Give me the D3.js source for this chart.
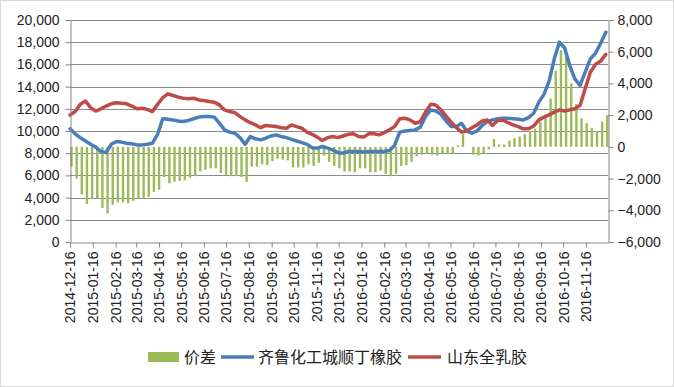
<!DOCTYPE html>
<html lang="zh">
<head>
  <meta charset="UTF-8">
  <title>价差</title>
  <script src="https://d3js.org/d3.v7.min.js"></script>
  <style>
    body { margin: 0; background: #fff; }
    svg { display: block; }
    .tick-label { font-family: "Liberation Sans", Arial, sans-serif; fill: #222; }
    .legend-text { font-family: "Noto Sans CJK SC", sans-serif; font-size: 16px; fill: #222; }
  </style>
</head>
<body>
<div class="main"></div>
<script>
  // weekly samples
  const dates = [
    "2014-12-16","2014-12-23","2014-12-30",
    "2015-01-06","2015-01-13","2015-01-20","2015-01-27",
    "2015-02-03","2015-02-10","2015-02-17","2015-02-24",
    "2015-03-03","2015-03-10","2015-03-17","2015-03-24","2015-03-31",
    "2015-04-07","2015-04-14","2015-04-21","2015-04-28",
    "2015-05-05","2015-05-12","2015-05-19","2015-05-26",
    "2015-06-02","2015-06-09","2015-06-16","2015-06-23","2015-06-30",
    "2015-07-07","2015-07-14","2015-07-21","2015-07-28",
    "2015-08-04","2015-08-11","2015-08-18","2015-08-25",
    "2015-09-01","2015-09-08","2015-09-15","2015-09-22","2015-09-29",
    "2015-10-06","2015-10-13","2015-10-20","2015-10-27",
    "2015-11-03","2015-11-10","2015-11-17","2015-11-24",
    "2015-12-01","2015-12-08","2015-12-15","2015-12-22","2015-12-29",
    "2016-01-05","2016-01-12","2016-01-19","2016-01-26",
    "2016-02-02","2016-02-09","2016-02-16","2016-02-23",
    "2016-03-01","2016-03-08","2016-03-15","2016-03-22","2016-03-29",
    "2016-04-05","2016-04-12","2016-04-19","2016-04-26",
    "2016-05-03","2016-05-10","2016-05-17","2016-05-24","2016-05-31",
    "2016-06-07","2016-06-14","2016-06-21","2016-06-28",
    "2016-07-05","2016-07-12","2016-07-19","2016-07-26",
    "2016-08-02","2016-08-09","2016-08-16","2016-08-23","2016-08-30",
    "2016-09-06","2016-09-13","2016-09-20","2016-09-27",
    "2016-10-04","2016-10-11","2016-10-18","2016-10-25",
    "2016-11-01","2016-11-08","2016-11-15","2016-11-22","2016-11-29",
    "2016-12-06","2016-12-13"
  ];

  // 齐鲁化工城顺丁橡胶 (left axis)
  const shunding = [
    10200, 9750, 9400, 9100, 8800, 8550, 8150, 8050, 8800, 9050,
    9000, 8900, 8850, 8750, 8750, 8800, 8900, 9700, 11100, 11050,
    11000, 10900, 10850, 10950, 11100, 11250, 11300, 11300, 11250, 10700,
    10100, 9900, 9800, 9400, 8800, 9500, 9300, 9200, 9350, 9550,
    9650, 9500, 9400, 9250, 9100, 8950, 8800, 8500, 8450, 8600,
    8450, 8300, 8050, 8000, 8150, 8150, 8150, 8100, 8150, 8150,
    8150, 8150, 8250, 8700, 9900, 10000, 10050, 10100, 10350, 11300,
    11900, 11800, 11500, 10900, 10400, 10400, 10700, 10000, 9800, 10000,
    10500, 10850, 11000, 11100, 11150, 11150, 11100, 11050, 11000, 11200,
    11600, 12600, 13300, 14500, 16500, 18000, 17500, 15900, 14700, 14100,
    15300, 16500, 17000, 17900, 18900
  ];

  // 山东全乳胶 (left axis)
  const quanru = [
    11440, 11750, 12400, 12700, 12100, 11800, 12000, 12250, 12450, 12550,
    12500, 12450, 12250, 12000, 12050, 11950, 11750, 12400, 13000, 13350,
    13200, 13050, 12950, 12900, 12950, 12800, 12750, 12650, 12600, 12350,
    11900, 11750, 11650, 11300, 11000, 10750, 10550, 10300, 10500, 10450,
    10400, 10300, 10250, 10550, 10400, 10250, 9900, 9700, 9450, 9150,
    9400, 9500, 9400, 9550, 9700, 9750, 9500, 9450, 9750, 9750,
    9650, 9850, 10100, 10400, 11100, 11150, 11000, 10700, 10850, 11700,
    12400, 12350, 11900, 11350, 10800, 10300, 9900, 10000, 10300, 10550,
    10900, 11000, 10500, 10950, 11000, 10750, 10550, 10400, 10200, 10200,
    10450, 11000, 11250, 11450, 11700, 11900, 11800, 11900, 12000, 12300,
    13800, 15300, 16000, 16300, 16900
  ];

  // 价差 (right axis)
  const jiacha = [
    -1240, -2000, -3000, -3600, -3300, -3250, -3850, -4200, -3650, -3500,
    -3500, -3550, -3400, -3250, -3300, -3150, -2850, -2700, -1900, -2300,
    -2200, -2150, -2100, -1950, -1850, -1550, -1450, -1350, -1350, -1650,
    -1800, -1850, -1850, -1900, -2200, -1250, -1250, -1100, -1150, -900,
    -750, -800, -850, -1300, -1300, -1300, -1100, -1200, -1000, -550,
    -950, -1200, -1350, -1550, -1550, -1600, -1350, -1350, -1600, -1600,
    -1500, -1700, -1850, -1700, -1200, -1150, -950, -600, -500, -400,
    -500, -550, -400, -450, -400, 100, 800, 0, -500, -550,
    -400, -150, 500, 150, 150, 400, 550, 650, 800, 1000,
    1150, 1600, 2050, 3050, 4800, 6100, 5700, 4000, 2700, 1800,
    1500, 1200, 1000, 1600, 2000
  ];

  const tickDates = [
    "2014-12-16","2015-01-16","2015-02-16","2015-03-16","2015-04-16","2015-05-16",
    "2015-06-16","2015-07-16","2015-08-16","2015-09-16","2015-10-16","2015-11-16",
    "2015-12-16","2016-01-16","2016-02-16","2016-03-16","2016-04-16","2016-05-16",
    "2016-06-16","2016-07-16","2016-08-16","2016-09-16","2016-10-16","2016-11-16"
  ];
  const leftTicks = [0, 2000, 4000, 6000, 8000, 10000, 12000, 14000, 16000, 18000, 20000];
  const rightTicks = [-6000, -4000, -2000, 0, 2000, 4000, 6000, 8000];
  const seriesNames = ["价差", "齐鲁化工城顺丁橡胶", "山东全乳胶"];
  const colors = ["#9bbb59", "#4a7ebb", "#be4b48"];

  let width = 674;
  let height = 387;
  let plotL = 70, plotR = 608, plotT = 20, plotB = 242;

  const parse = d3.timeParse("%Y-%m-%d");
  const fmt = d3.format(",");

  let svg = d3.select(".main").append("svg").attr("width", width).attr("height", height);

  // outer border
  svg.append("rect").attr("x", 0.5).attr("y", 0.5).attr("width", width - 1).attr("height", height - 1)
    .style("fill", "#fff").style("stroke", "#d9d9d9");

  let x = d3.scaleTime().domain([parse("2014-12-16"), parse("2016-12-16")]).range([plotL, plotR]);
  let yL = d3.scaleLinear().domain([0, 20000]).range([plotB, plotT]);
  let yR = d3.scaleLinear().domain([-6000, 8000]).range([plotB, plotT]);

  // gridlines
  svg.append("g").selectAll("line").data(leftTicks.filter(d => d > 0)).join("line")
    .attr("x1", plotL).attr("x2", plotR)
    .attr("y1", d => Math.round(yL(d)) + 0.5).attr("y2", d => Math.round(yL(d)) + 0.5)
    .style("stroke", "#8c8c8c").style("stroke-width", 1);

  // bars
  svg.append("g").selectAll("rect").data(jiacha).join("rect")
    .attr("x", (d, i) => x(parse(dates[i])) + 0.3)
    .attr("width", 2.4)
    .attr("y", d => Math.min(yR(d), yR(0)))
    .attr("height", d => Math.abs(yR(d) - yR(0)))
    .style("fill", colors[0]);

  // lines
  let line = d3.line().x((d, i) => x(parse(dates[i]))).y(d => yL(d));
  svg.append("path").datum(shunding).attr("d", line)
    .style("fill", "none").style("stroke", colors[1]).style("stroke-width", 3.5)
    .style("stroke-linejoin", "round").style("stroke-linecap", "round");
  svg.append("path").datum(quanru).attr("d", line)
    .style("fill", "none").style("stroke", colors[2]).style("stroke-width", 3.5)
    .style("stroke-linejoin", "round").style("stroke-linecap", "round");

  // left axis
  let axL = svg.append("g").attr("transform", "translate(" + (plotL + 0.5) + ",0)")
    .call(d3.axisLeft(yL).tickValues(leftTicks).tickFormat(fmt).tickSize(5).tickPadding(6));
  axL.select(".domain").style("stroke", "#868686");
  axL.selectAll(".tick line").style("stroke", "#868686");
  axL.selectAll("text").attr("class", "tick-label").style("font-size", "14px");

  // right axis
  let axR = svg.append("g").attr("transform", "translate(" + (plotR + 0.5) + ",0)")
    .call(d3.axisRight(yR).tickValues(rightTicks).tickFormat(fmt).tickSize(5).tickPadding(4));
  axR.select(".domain").style("stroke", "#868686");
  axR.selectAll(".tick line").style("stroke", "#868686");
  axR.selectAll("text").attr("class", "tick-label").style("font-size", "14px");

  // bottom axis
  let axB = svg.append("g").attr("transform", "translate(0," + (plotB + 0.5) + ")")
    .call(d3.axisBottom(x).tickValues(tickDates.map(parse)).tickFormat(d3.timeFormat("%Y-%m-%d")).tickSize(5).tickSizeOuter(0));
  axB.select(".domain").style("stroke", "#868686");
  axB.selectAll(".tick line").style("stroke", "#868686");
  axB.selectAll("text").attr("class", "tick-label").style("font-size", "14px")
    .attr("transform", "rotate(-90)").attr("text-anchor", "end")
    .attr("x", -9).attr("y", 0).attr("dy", "0.35em");

  // legend
  let lg = svg.append("g");
  lg.append("rect").attr("x", 148).attr("y", 352).attr("width", 31).attr("height", 10).style("fill", colors[0]);
  lg.append("text").attr("x", 184).attr("y", 363).attr("class", "legend-text").text(seriesNames[0]);
  lg.append("line").attr("x1", 221).attr("x2", 254).attr("y1", 357).attr("y2", 357)
    .style("stroke", colors[1]).style("stroke-width", 3.5);
  lg.append("text").attr("x", 258).attr("y", 363).attr("class", "legend-text").text(seriesNames[1]);
  lg.append("line").attr("x1", 408).attr("x2", 441).attr("y1", 357).attr("y2", 357)
    .style("stroke", colors[2]).style("stroke-width", 3.5);
  lg.append("text").attr("x", 447).attr("y", 363).attr("class", "legend-text").text(seriesNames[2]);
</script>
</body>
</html>
